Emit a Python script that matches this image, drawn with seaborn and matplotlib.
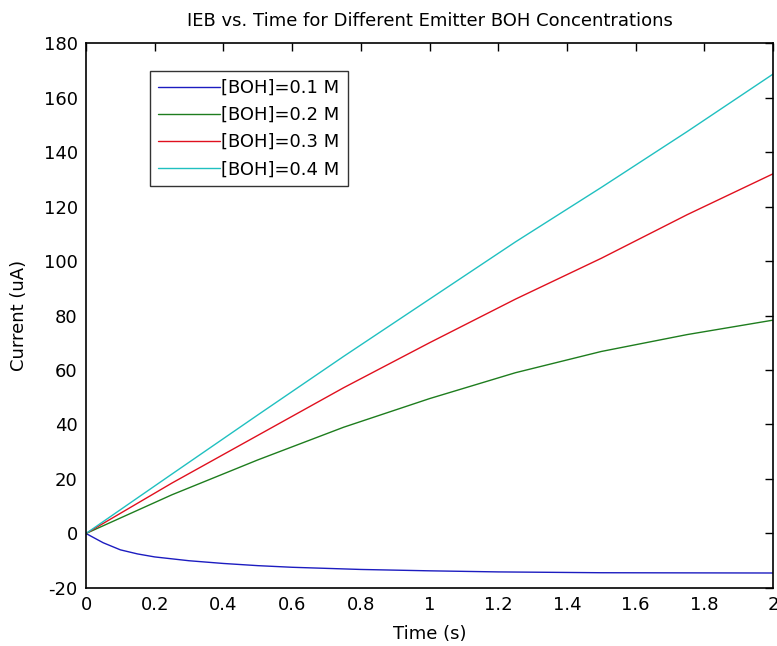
"""
IEB vs. time for different emitter BOH concentrations (MATLAB-style figure).
"""

import numpy as np
import pandas as pd
import matplotlib
matplotlib.use("Agg")
import matplotlib.pyplot as plt
from matplotlib.ticker import FuncFormatter
import seaborn as sns

# Data
t_blue = [0, 0.05, 0.1, 0.15, 0.2, 0.3, 0.4, 0.5, 0.6, 0.8, 1.0, 1.2, 1.5, 2.0]
i_blue = [0, -3.4, -6.0, -7.5, -8.6, -10.0, -11.0, -11.8, -12.4, -13.2, -13.7, -14.1, -14.4, -14.5]

t_grid = [0, 0.25, 0.5, 0.75, 1.0, 1.25, 1.5, 1.75, 2.0]
i_green = [0, 14.2, 27.0, 39.0, 49.5, 59.0, 66.8, 73.0, 78.3]
i_red = [0, 18.5, 36.0, 53.5, 70.0, 86.0, 101.0, 117.0, 132.0]
i_cyan = [0, 21.8, 43.5, 65.0, 86.0, 107.0, 127.0, 147.5, 168.6]

labels = ["[BOH]=0.1 M", "[BOH]=0.2 M", "[BOH]=0.3 M", "[BOH]=0.4 M"]
colors = ["#1c1cc0", "#1e7d1e", "#e0101e", "#20c0c0"]

x_ticks = [0, 0.2, 0.4, 0.6, 0.8, 1.0, 1.2, 1.4, 1.6, 1.8, 2.0]
y_ticks = [-20, 0, 20, 40, 60, 80, 100, 120, 140, 160, 180]

sns.set_style("white")
plt.rcParams['font.family'] = ['DejaVu Sans']
plt.rcParams['axes.unicode_minus'] = False
plt.rcParams['text.color'] = 'black'
plt.rcParams['axes.labelcolor'] = 'black'

fig = plt.figure(figsize=(7.77, 6.46), dpi=100)
ax = fig.add_axes([0.1107, 0.0898, 0.9949 - 0.1107, 0.9334 - 0.0898])

series = [(t_blue, i_blue), (t_grid, i_green), (t_grid, i_red), (t_grid, i_cyan)]
for (tx, iy), lab, col in zip(series, labels, colors):
    df = pd.DataFrame({"t": tx, "i": iy})
    sns.lineplot(data=df, x="t", y="i", ax=ax, color=col, label=lab,
                 linewidth=1.0, estimator=None)

ax.set_xlim(0, 2)
ax.set_ylim(-20, 180)
ax.set_xticks(x_ticks)
ax.set_yticks(y_ticks)
ax.xaxis.set_major_formatter(FuncFormatter(lambda v, p: f"{v:g}"))
ax.tick_params(direction="in", length=6, width=1, top=True, right=True,
               labelsize=13, colors="black", pad=6)
for sp in ax.spines.values():
    sp.set_color("black")
    sp.set_linewidth(1.2)

ax.set_xlabel("Time (s)", fontsize=13, labelpad=8, color="black")
ax.set_ylabel("Current (uA)", fontsize=13, labelpad=11, color="black")
ax.set_title("IEB vs. Time for Different Emitter BOH Concentrations",
             fontsize=13, pad=12, color="black")

leg = ax.legend(loc="upper left", bbox_to_anchor=(0.0932, 0.9486), fontsize=13,
                frameon=True, fancybox=False, handlelength=3.4,
                handletextpad=0.1, borderpad=0.45, labelspacing=0.5,
                borderaxespad=0)
leg.get_frame().set_edgecolor("black")
leg.get_frame().set_linewidth(1.0)
for txt in leg.get_texts():
    txt.set_color("black")

fig.savefig("out.png", dpi=100)
plt.close(fig)
